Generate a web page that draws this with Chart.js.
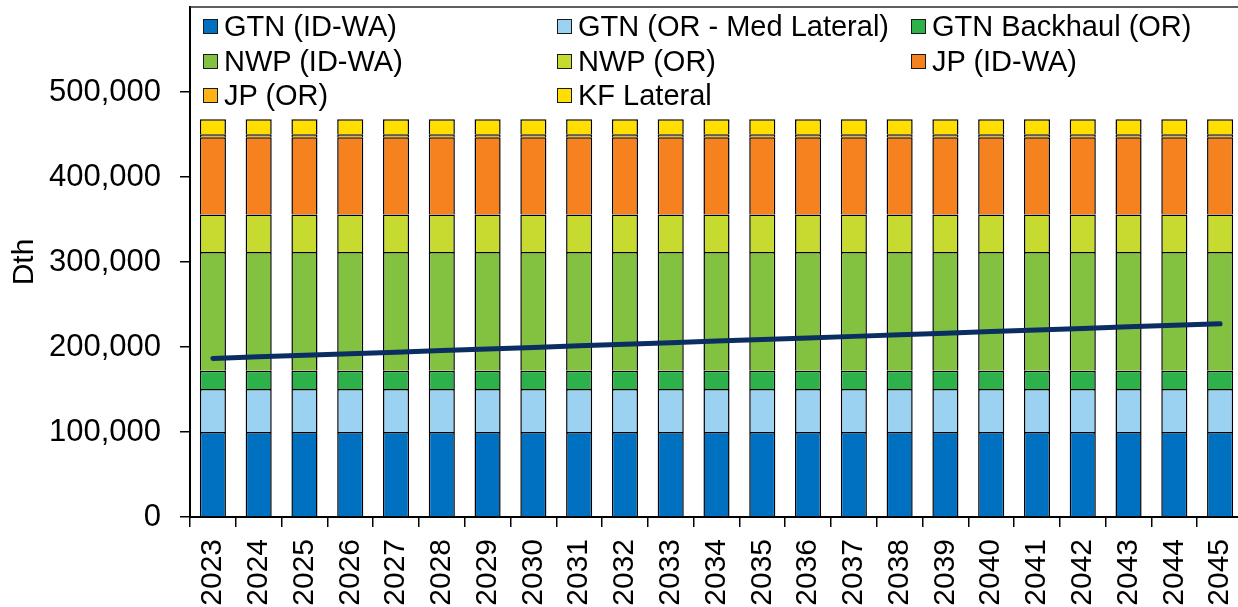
<!DOCTYPE html>
<html>
<head>
<meta charset="utf-8">
<script src="https://cdn.jsdelivr.net/npm/chart.js@4.4.1/dist/chart.umd.min.js"></script>
<style>
html,body{margin:0;padding:0;overflow:hidden;background:#fff;width:1238px;height:607px;}
#wrap{position:relative;width:1238px;height:607px;overflow:hidden;}
canvas{position:absolute;left:0;top:0;}
#legend{position:absolute;left:0;top:0;width:1238px;height:120px;font-family:"Liberation Sans",Arial,sans-serif;font-size:29px;color:#000;pointer-events:none;}
.item{position:absolute;display:flex;align-items:center;white-space:nowrap;height:34px;line-height:34px;}
.box{width:13px;height:13px;border:1.5px solid #1a1a1a;margin-right:6px;flex:none;}
</style>
</head>
<body>
<div id="wrap">
  <canvas id="c" width="1246" height="607"></canvas>
  <div id="legend"></div>
</div>
<script>
// ---- data ----
const years = ["2023","2024","2025","2026","2027","2028","2029","2030","2031","2032","2033","2034","2035","2036","2037","2038","2039","2040","2041","2042","2043","2044","2045"];
const seriesNames = ["GTN (ID-WA)","GTN (OR - Med Lateral)","GTN Backhaul (OR)","NWP (ID-WA)","NWP (OR)","JP (ID-WA)","JP (OR)","KF Lateral"];
const gtnIdWa      = [100000,100000,100000,100000,100000,100000,100000,100000,100000,100000,100000,100000,100000,100000,100000,100000,100000,100000,100000,100000,100000,100000,100000];
const gtnOrMed     = [50600,50600,50600,50600,50600,50600,50600,50600,50600,50600,50600,50600,50600,50600,50600,50600,50600,50600,50600,50600,50600,50600,50600];
const gtnBackhaul  = [21500,21500,21500,21500,21500,21500,21500,21500,21500,21500,21500,21500,21500,21500,21500,21500,21500,21500,21500,21500,21500,21500,21500];
const nwpIdWa      = [139600,139600,139600,139600,139600,139600,139600,139600,139600,139600,139600,139600,139600,139600,139600,139600,139600,139600,139600,139600,139600,139600,139600];
const nwpOr        = [44200,44200,44200,44200,44200,44200,44200,44200,44200,44200,44200,44200,44200,44200,44200,44200,44200,44200,44200,44200,44200,44200,44200];
const jpIdWa       = [91000,91000,91000,91000,91000,91000,91000,91000,91000,91000,91000,91000,91000,91000,91000,91000,91000,91000,91000,91000,91000,91000,91000];
const jpOr         = [3500,3500,3500,3500,3500,3500,3500,3500,3500,3500,3500,3500,3500,3500,3500,3500,3500,3500,3500,3500,3500,3500,3500];
const kfLateral    = [17600,17600,17600,17600,17600,17600,17600,17600,17600,17600,17600,17600,17600,17600,17600,17600,17600,17600,17600,17600,17600,17600,17600];
const demandLine   = [186500,188400,190200,192100,193900,195800,197700,199500,201400,203200,205100,207000,208800,210700,212500,214400,216300,218100,220000,221800,223700,225600,227400];
const yTickValues  = [0,100000,200000,300000,400000,500000];

// ---- styles ----
const colors = ["#0070C0","#9BD2F1","#2DB24B","#83C241","#C6DA2F","#F5821F","#FCB316","#FFDE00"];
const seriesData = [gtnIdWa,gtnOrMed,gtnBackhaul,nwpIdWa,nwpOr,jpIdWa,jpOr,kfLateral];
const FONT = '"Liberation Sans", Arial, sans-serif';

const barSets = seriesNames.map((name,i)=>({
  type:'bar', label:name, data:seriesData[i], backgroundColor:colors[i],
  borderColor:'#000', borderWidth:1.5, order:1,
  barPercentage:0.57, categoryPercentage:1.0
}));
const lineSet = {
  type:'line', label:'Demand', data:demandLine, borderColor:'#0B2E62', borderWidth:5,
  pointRadius:0, borderCapStyle:'round', tension:0, fill:false, order:0
};

const framePlugin = {
  id:'frame',
  afterDraw(ch){
    const {ctx, chartArea:a} = ch;
    ctx.save();
    ctx.strokeStyle = '#2b2b2b';
    ctx.lineWidth = 1.5;
    ctx.beginPath();
    ctx.moveTo(a.left, a.top);
    ctx.lineTo(a.right, a.top);
    ctx.lineTo(a.right, a.bottom);
    ctx.stroke();
    ctx.restore();
  }
};

const chart = new Chart(document.getElementById('c'), {
  data:{ labels:years, datasets:[lineSet, ...barSets] },
  plugins:[framePlugin],
  options:{
    responsive:false, animation:false, devicePixelRatio:1,
    layout:{ padding:{ top:7, right:3, left:0, bottom:0 } },
    plugins:{ legend:{display:false}, tooltip:{enabled:false} },
    scales:{
      x:{
        stacked:true, offset:true,
        grid:{ display:true, drawOnChartArea:false, drawTicks:true, tickLength:10, color:'#000', lineWidth:1.5, offset:true },
        border:{ display:true, color:'#000', width:2 },
        ticks:{ autoSkip:false, maxRotation:90, minRotation:90, padding:12, color:'#000', font:{ family:FONT, size:30 } },
        afterFit(s){ s.height = 90; s.paddingLeft = 0; s.paddingRight = 0; }
      },
      y:{
        stacked:true, min:0, max:600000,
        afterBuildTicks(s){ s.ticks = yTickValues.map(v=>({value:v})); },
        grid:{ display:true, drawOnChartArea:false, drawTicks:true, tickLength:10, color:'#000', lineWidth:1.5 },
        border:{ display:true, color:'#000', width:2 },
        ticks:{ padding:19, color:'#000', font:{ family:FONT, size:31 }, callback:v=>Number(v).toLocaleString('en-US') },
        title:{ display:true, text:'Dth', color:'#000', font:{ family:FONT, size:30 }, padding:{ top:7, bottom:0 } },
        afterFit(s){ s.width = 190; s.paddingTop = 0; s.paddingBottom = 0; }
      }
    }
  }
});

// ---- HTML legend (3-column grid like the original) ----
const colLeft = [203, 557, 911];
const rowTop = [9, 44, 78];
const leg = document.getElementById('legend');
barSets.forEach((ds,i)=>{
  const it = document.createElement('div');
  it.className = 'item';
  it.style.left = colLeft[i%3] + 'px';
  it.style.top = rowTop[Math.floor(i/3)] + 'px';
  const b = document.createElement('span');
  b.className = 'box';
  b.style.background = ds.backgroundColor;
  const t = document.createElement('span');
  t.textContent = ds.label;
  it.appendChild(b); it.appendChild(t);
  leg.appendChild(it);
});
</script>
</body>
</html>
